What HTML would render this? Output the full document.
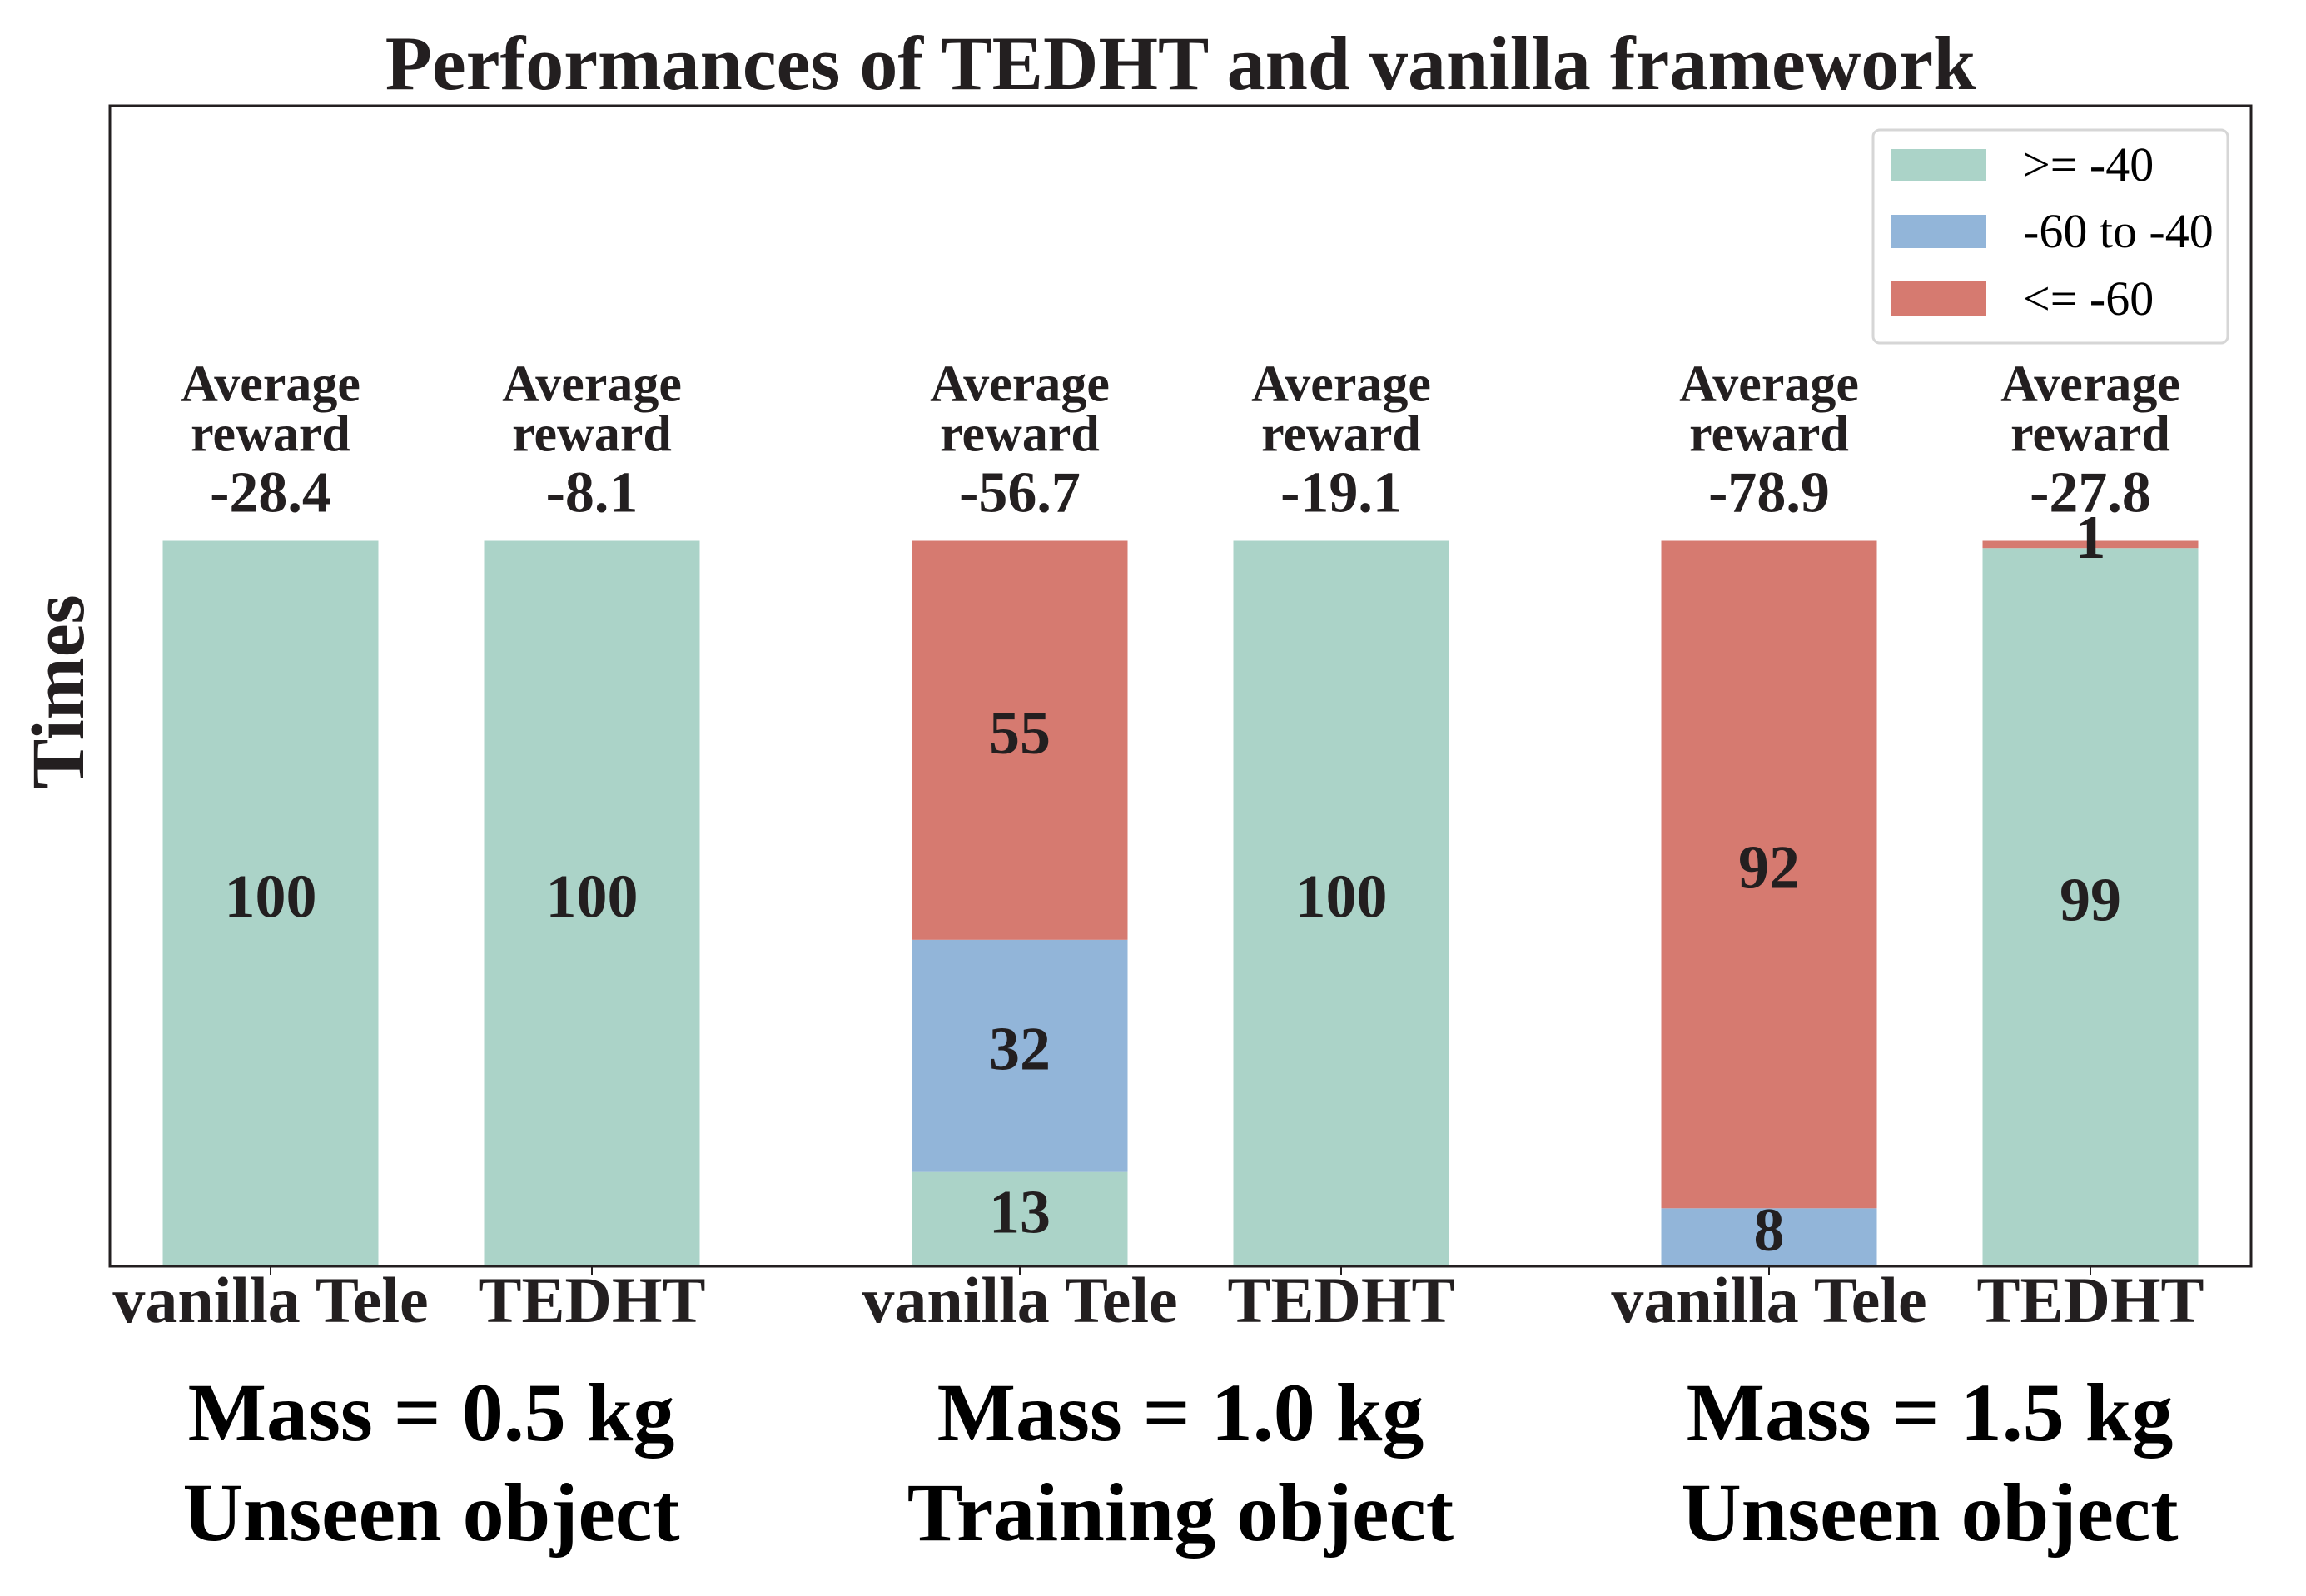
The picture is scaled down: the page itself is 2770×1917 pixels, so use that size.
<!DOCTYPE html>
<html><head><meta charset="utf-8"><style>
html,body{margin:0;padding:0;background:#fff;}
svg{display:block;font-family:"Liberation Serif",serif;}
</style></head><body>
<svg id="chart" width="2770" height="1917" viewBox="0 0 2770 1917" xmlns="http://www.w3.org/2000/svg">
<rect x="0" y="0" width="2770" height="1917" fill="#fff"/>
<text x="1418" y="107" text-anchor="middle" font-size="92" font-weight="bold" fill="#231f20">Performances of TEDHT and vanilla framework</text>
<g id="bars"></g>
<g id="labels"></g>
<rect x="132" y="127" width="2572" height="1394" fill="none" stroke="#231f20" stroke-width="3"/>
<text transform="translate(100,831) rotate(-90)" text-anchor="middle" font-size="90" font-weight="bold" fill="#231f20">Times</text>
<g>
<rect x="2250" y="156" width="426" height="256" rx="8" fill="#fff" stroke="#d6d6d6" stroke-width="3"/>
<rect x="2271" y="179" width="115" height="39" fill="#abd3c8"/>
<text x="2430" y="217" font-size="58" fill="#000">&gt;= -40</text>
<rect x="2271" y="258" width="115" height="40" fill="#92b5d9"/>
<text x="2430" y="297" font-size="58" fill="#000">-60 to -40</text>
<rect x="2271" y="338" width="115" height="41" fill="#d67a70"/>
<text x="2430" y="378" font-size="58" fill="#000">&lt;= -60</text>
</g>
</svg>
<script>
const categories = ["vanilla Tele","TEDHT","vanilla Tele","TEDHT","vanilla Tele","TEDHT"];
const goodValues = [100,100,13,100,0,99];
const midValues = [0,0,32,0,8,0];
const badValues = [0,0,55,0,92,1];
const avgRewards = ["-28.4","-8.1","-56.7","-19.1","-78.9","-27.8"];
const groupLine1 = ["Mass = 0.5 kg","Mass = 1.0 kg","Mass = 1.5 kg"];
const groupLine2 = ["Unseen object","Training object","Unseen object"];

const NS = "http://www.w3.org/2000/svg";
const y0 = 1521, pxPerUnit = 8.715;
const xFirst = 325, groupStep = 900, innerStep = 386, barW = 259;
function xCenter(i){ return xFirst + Math.floor(i/2)*groupStep + (i%2)*innerStep; }
function yScale(v){ return y0 - v*pxPerUnit; }
const bars = document.getElementById('bars');
const labels = document.getElementById('labels');
function mk(tag, attrs, parent){
  const e = document.createElementNS(NS, tag);
  for (const k in attrs) e.setAttribute(k, attrs[k]);
  parent.appendChild(e); return e;
}
const series = [
  {vals: goodValues, color: "#abd3c8", name: "good"},
  {vals: midValues, color: "#92b5d9", name: "mid"},
  {vals: badValues, color: "#d67a70", name: "bad"}
];
categories.forEach((cat, i) => {
  const cx = xCenter(i);
  let base = 0;
  series.forEach(s => {
    const v = s.vals[i];
    if (v > 0) {
      const r = mk('rect', {x: cx - barW/2, y: yScale(base + v), width: barW, height: v*pxPerUnit, fill: s.color}, bars);
      
      
      const t = mk('text', {x: cx, y: (yScale(base) + yScale(base + v))/2 + 16, 'text-anchor': 'middle', 'font-size': 74, 'font-weight': 'bold', fill: '#231f20'}, labels);
      t.textContent = v;
      
      
    }
    base += v;
  });
  const top = yScale(base);
  const lines = ["Average", "reward", avgRewards[i]];
  const offs = [168, 108, 35];
  lines.forEach((ln, k) => {
    const t = mk('text', {x: cx, y: top - offs[k], 'text-anchor': 'middle', 'font-size': k === 2 ? 70 : 62, 'font-weight': 'bold', fill: '#231f20'}, labels);
    t.textContent = ln;
    
    
  });
  const tk = mk('line', {x1: cx, x2: cx, y1: y0, y2: y0 + 11, stroke: '#231f20', 'stroke-width': 2}, labels);
  
  
  const tl = mk('text', {x: cx, y: 1588, 'text-anchor': 'middle', 'font-size': 78, 'font-weight': 'bold', fill: '#231f20'}, labels);
  tl.textContent = cat;
  
  
});
groupLine1.forEach((g, j) => {
  const cx = (xCenter(2*j) + xCenter(2*j+1))/2;
  const a = mk('text', {x: cx, y: 1730, 'text-anchor': 'middle', 'font-size': 100, 'font-weight': 'bold', fill: '#000'}, labels);
  a.textContent = g;
  
  
  const b = mk('text', {x: cx, y: 1850, 'text-anchor': 'middle', 'font-size': 100, 'font-weight': 'bold', fill: '#000'}, labels);
  b.textContent = groupLine2[j];
  
  
});
</script>
</body></html>
